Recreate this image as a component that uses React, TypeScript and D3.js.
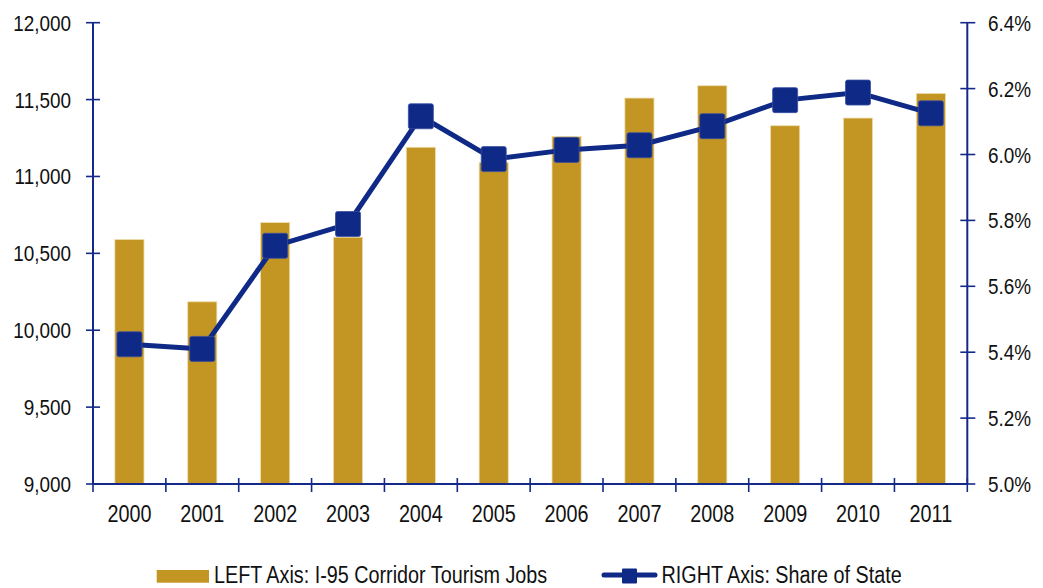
import React from "react";
import * as d3 from "d3";

const years = ["2000","2001","2002","2003","2004","2005","2006","2007","2008","2009","2010","2011"];
const jobs = [10590, 10185, 10700, 10605, 11190, 11090, 11260, 11510, 11590, 11330, 11380, 11540];
const share = [5.424, 5.41, 5.723, 5.789, 6.116, 5.986, 6.014, 6.028, 6.086, 6.165, 6.188, 6.125];
const leftTicks = [9000, 9500, 10000, 10500, 11000, 11500, 12000];
const rightTicks = [5.0, 5.2, 5.4, 5.6, 5.8, 6.0, 6.2, 6.4];
const barLabel = "LEFT Axis: I-95 Corridor Tourism Jobs";
const lineLabel = "RIGHT Axis: Share of State";

const W = 1043, H = 588;
const L = 93, R = 967.3, T = 22.7, B = 484;
const BAR = "#C39623";
const NAVY = "#0F2987";
const AXIS = "#15298A";
const FONT = "'Liberation Sans', Arial, sans-serif";
const SX = 0.86;

function Txt({ x, y, size, anchor, children }: any) {
  return (
    <text
      transform={`translate(${x},${y}) scale(${SX},1)`}
      fontSize={size}
      fontFamily={FONT}
      fill="#111"
      textAnchor={anchor}
    >
      {children}
    </text>
  );
}

export default function App() {
  const x = d3.scaleBand<string>().domain(years).range([L, R]).paddingInner(0).paddingOuter(0);
  const yL = d3.scaleLinear().domain([9000, 12000]).range([B, T]);
  const yR = d3.scaleLinear().domain([5.0, 6.4]).range([B, T]);
  const bw = x.bandwidth() * 0.4;
  const fmt = d3.format(",");
  const pts: [number, number][] = years.map((yr, i) => [x(yr)! + x.bandwidth() / 2, yR(share[i])]);
  const line = d3.line()(pts) || "";
  const boundaries = years.map((yr) => x(yr)!).concat([R]);
  const ms = 25;

  return (
    <svg width={W} height={H} style={{ position: "absolute", left: 0, top: 0, background: "#fff" }}>
      {years.map((yr, i) => (
        <rect
          key={yr}
          x={x(yr)! + (x.bandwidth() - bw) / 2}
          y={yL(jobs[i])}
          width={bw}
          height={B - yL(jobs[i])}
          fill={BAR}
          stroke="#EFDDB0"
          strokeWidth={0.8}
        />
      ))}
      {/* axes */}
      <line x1={L} x2={L} y1={T} y2={B} stroke={AXIS} strokeWidth={2} />
      <line x1={R} x2={R} y1={T} y2={B} stroke={AXIS} strokeWidth={2} />
      <line x1={L} x2={R} y1={B} y2={B} stroke={AXIS} strokeWidth={2} />
      {leftTicks.map((t) => (
        <g key={t}>
          <line x1={L - 7} x2={L + 7} y1={yL(t)} y2={yL(t)} stroke={AXIS} strokeWidth={1.6} />
          <Txt x={71} y={yL(t) + 8} size={22} anchor="end">{fmt(t)}</Txt>
        </g>
      ))}
      {rightTicks.map((t) => (
        <g key={t}>
          <line x1={R - 7} x2={R + 8} y1={yR(t)} y2={yR(t)} stroke={AXIS} strokeWidth={1.6} />
          <Txt x={988} y={yR(t) + 8} size={22} anchor="start">{t.toFixed(1) + "%"}</Txt>
        </g>
      ))}
      {boundaries.map((bx, i) => (
        <line key={i} x1={bx} x2={bx} y1={B - 6} y2={B + 8} stroke={AXIS} strokeWidth={1.6} />
      ))}
      {years.map((yr) => (
        <Txt key={yr} x={x(yr)! + x.bandwidth() / 2} y={521.5} size={23} anchor="middle">{yr}</Txt>
      ))}
      {/* line series */}
      <path d={line} fill="none" stroke={NAVY} strokeWidth={5} strokeLinejoin="round" />
      {pts.map((p, i) => (
        <rect
          key={i}
          x={p[0] - ms / 2}
          y={p[1] - ms / 2}
          width={ms}
          height={ms}
          rx={2}
          fill={NAVY}
          stroke="#3A4FA0"
          strokeWidth={0.8}
        />
      ))}
      {/* legend */}
      <rect x={156.7} y={570} width={52.3} height={12.7} fill={BAR} />
      <Txt x={214} y={583} size={23} anchor="start">{barLabel}</Txt>
      <line x1={604} x2={655} y1={575} y2={575} stroke={NAVY} strokeWidth={5} strokeLinecap="round" />
      <rect x={622} y={568.5} width={15} height={15} fill={NAVY} rx={1} />
      <Txt x={661.5} y={583} size={23} anchor="start">{lineLabel}</Txt>
    </svg>
  );
}
